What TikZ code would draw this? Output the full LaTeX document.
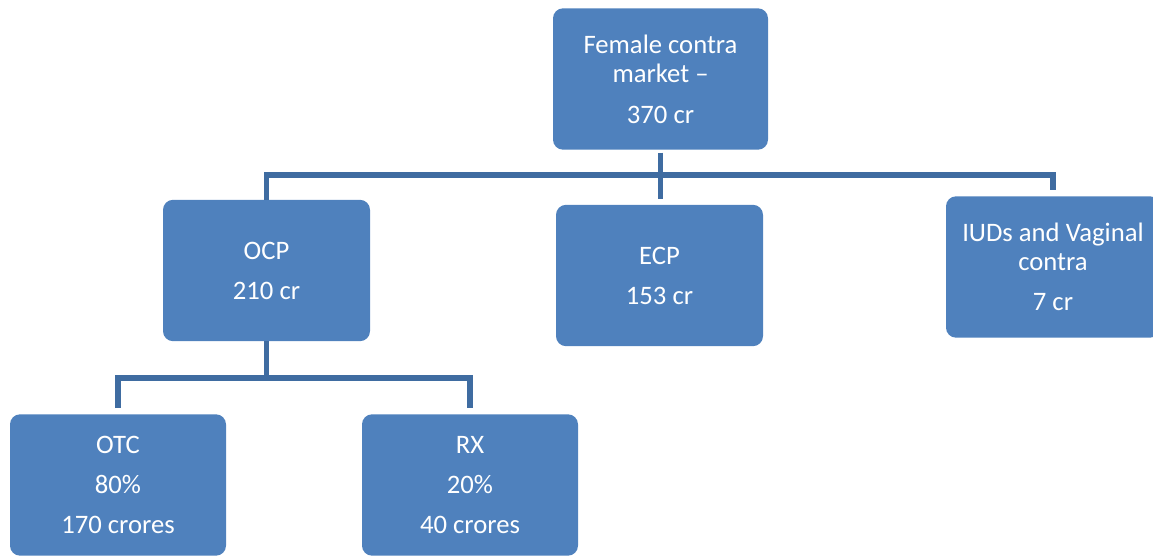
\documentclass[tikz,border=0pt]{standalone}
\usepackage{fontspec}
\setmainfont{Carlito}
\definecolor{boxblue}{HTML}{4F81BD}
\definecolor{linkblue}{HTML}{3F6CA1}
\tikzset{
  unitbox/.style={fill=boxblue, rounded corners=7.5pt, inner sep=0pt,
    text=white, align=center, font=\fontsize{20}{21.75}\selectfont,
    minimum width=#1*0.75pt, minimum height=106pt},
  unitbox/.default=207,
  link/.style={draw=linkblue, line width=4.3pt}
}
\begin{document}
\begin{tikzpicture}[x=0.75pt, y=-0.75pt]
	\useasboundingbox (0,0) rectangle (1153,557);
	% top level
	\node[unitbox=215] (market) at (660.5,79) {Female contra\\market --\\[9pt]370 cr};
	% second level
	\node[unitbox] (ocp) at (266.5,270.5) {OCP\\[8.25pt]210 cr};
	\node[unitbox] (ecp) at (659.5,275.5) {ECP\\[8.25pt]153 cr};
	\node[unitbox=214] (iud) at (1053,267) {IUDs and Vaginal\\contra\\[8.25pt]7 cr};
	% third level
	\node[unitbox=216] (otc) at (118,485) {OTC\\[8.25pt]80\%\\[8.25pt]170 crores};
	\node[unitbox=216] (rx) at (470,485) {RX\\[8.25pt]20\%\\[8.25pt]40 crores};

	\coordinate (busA) at (0,175);
	\coordinate (busB) at (0,378);
	\draw[link] ([yshift=-2pt]market.south) -- ++(0,46);
	\draw[link] (ocp.north) -- (ocp.north |- busA) -- (iud.north |- busA) -- ([yshift=4.5pt]iud.north);
	\draw[link] (ocp.south) -- (ocp.south |- busB);
	\draw[link] ([yshift=4.5pt]otc.north) -- (otc.north |- busB) -- (rx.north |- busB) -- ([yshift=4.5pt]rx.north);
\end{tikzpicture}
\end{document}
